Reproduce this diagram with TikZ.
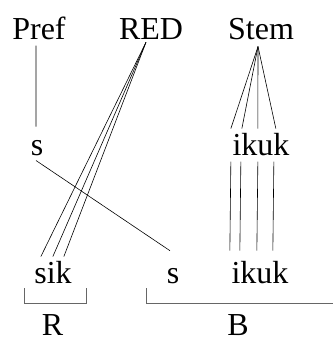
\documentclass[tikz,border=0pt]{standalone}
\usepackage{fontspec}
\setmainfont{Liberation Serif}
\usepackage{tikz}
\usetikzlibrary{calc}

\begin{document}
\begin{tikzpicture}[
  x=1bp, y=-1bp,
  seg/.style={anchor=base, inner sep=0pt, font=\fontsize{32bp}{38bp}\selectfont},
  lnk/.style={line width=0.6bp},
  brk/.style={line width=0.8bp, draw=black!60}
]
\useasboundingbox (0,0) rectangle (333,337);

% tiers
\node[seg] (pref) at (39,39) {Pref};
\node[seg] (red) at (151,39) {RED};
\node[seg] (stem) at (261,39) {Stem};
\node[seg] (s1) at (37,155) {s};
\node[seg] (ikuk1) at (261,155) {ikuk};
\node[seg] (sik) at (53,283) {sik};
\node[seg] (s2) at (173,283) {s};
\node[seg] (ikuk2) at (260,283) {ikuk};
\node[seg] (lr) at (52.5,335) {R};
\node[seg] (lb) at (238,335) {B};

% association lines
\draw[lnk] ([xshift=-3bp, yshift=-6bp]pref.south) -- ([xshift=-1bp, yshift=13bp]s1.north);
\foreach \dx in {-1.5, 9.5, 25.5, 43.5}
  \draw[lnk] ([xshift=-3bp, yshift=-7bp]stem.south) -- ([xshift=\dx bp, yshift=4bp]ikuk1.north west);
\foreach \dx in {-1.5, 8.5, 25.5, 41.5}
  \draw[lnk] ([xshift=\dx bp, yshift=-6bp]ikuk1.south west) -- ([xshift=\dx bp, yshift=10bp]ikuk2.north west);
\foreach \dx in {6.7, 18.7, 29.7}
  \draw[lnk] ([xshift=-5bp, yshift=-3bp]red.south) -- ([xshift=\dx bp, yshift=4bp]sik.north west);
\draw[lnk] ([xshift=-1bp, yshift=-5bp]s1.south) -- ([xshift=-3bp, yshift=17bp]s2.north);

% brackets
\draw[brk] (24,288) -- (24,303) -- (86,303) -- (86,288);
\draw[brk] (146,288) -- (146,303) -- (333,303);
\end{tikzpicture}
\end{document}
